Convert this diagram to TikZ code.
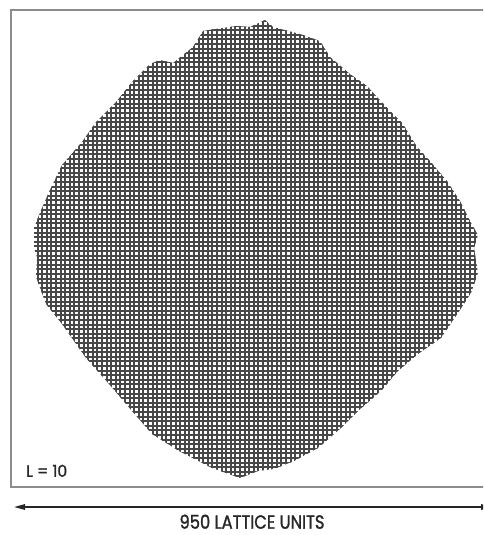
\documentclass[tikz,border=0pt]{standalone}
\usepackage{fontspec}
\setmainfont{Liberation Sans}
\newfontfamily\geofont{Poppins}[FakeBold=1.6]
\usetikzlibrary{arrows.meta}
\begin{document}
\begin{tikzpicture}[x=1pt,y=-1pt,
  gridline/.style={line width=1.9pt, draw=black!72},
  frameline/.style={line width=1.2pt, draw=black!45},
  arrowline/.style={line width=1.5pt, draw=black!85, {Triangle[length=11pt,width=5.5pt]}-{Triangle[length=11pt,width=5.5pt]}},
  lbl/.style={inner sep=0pt, text=black!85, font=\geofont}]
\useasboundingbox (0,0) rectangle (483,535);
\clip (0,0) rectangle (483,535);
% frame
\coordinate (fBR) at (490,487);
\coordinate (fBL) at (11,487);
\coordinate (fTL) at (11,10);
\coordinate (fTR) at (490,10);
\draw[frameline] (fTR) -- (fTL) -- (fBL) -- (fBR);
% cluster
\begin{scope}
\clip (203,31) -- (215,29) -- (237,26) -- (250,27) -- (265,20) -- (273,27) -- (300,34) -- (320,41) -- (330,57) -- (350,74) -- (367,86) -- (377,97) -- (390,111) -- (403,124) -- (417,147) -- (430,161) -- (447,181) -- (460,201) -- (470,221) -- (478,235) -- (474,248) -- (478,273) -- (471,293) -- (458,313) -- (441,338) -- (418,354) -- (398,371) -- (381,391) -- (358,411) -- (341,428) -- (318,448) -- (294,461) -- (274,469) -- (258,471) -- (240,478) -- (212,468) -- (179,451) -- (152,434) -- (132,411) -- (109,384) -- (86,358) -- (62,324) -- (46,304) -- (36,277) -- (37,257) -- (34,248) -- (34,228) -- (39,215) -- (49,192) -- (62,165) -- (82,142) -- (96,122) -- (116,102) -- (132,82) -- (150,64) -- (160,60) -- (173,63) -- (193,47) -- cycle;
\foreach \i in {0,...,100} \draw[gridline] ({33+4.6*\i},15) -- ({33+4.6*\i},482);
\foreach \j in {0,...,100} \draw[gridline] (28,{21+4.6*\j}) -- (482,{21+4.6*\j});
\end{scope}
% label inside frame
\node[lbl, anchor=south west] (lval) at (26,477) {\resizebox{41pt}{12pt}{L = 10}};
% scale arrow
\coordinate (aL) at (14,507);
\coordinate (aR) at (492,507);
\draw[arrowline] (aL) -- (aR);
\node[lbl, anchor=south] (units) at (252,529) {\resizebox{145pt}{14pt}{950 LATTICE UNITS}};
\end{tikzpicture}
\end{document}
